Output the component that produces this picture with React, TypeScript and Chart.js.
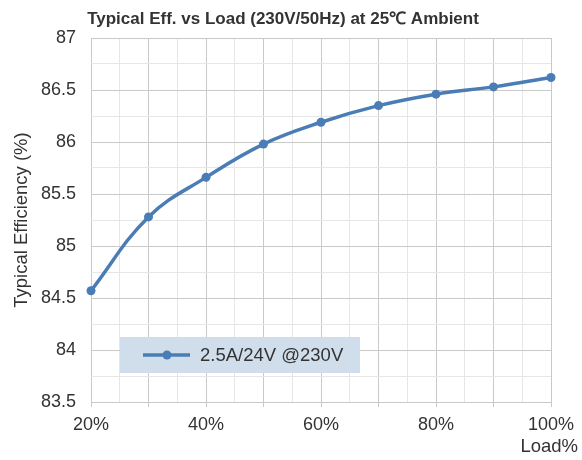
import React, { useEffect, useRef } from "react";
import { Chart, registerables } from "chart.js";

Chart.register(...registerables);

const loads = [20, 30, 40, 50, 60, 70, 80, 90, 100];
const efficiency = [84.57, 85.28, 85.66, 85.98, 86.19, 86.35, 86.46, 86.53, 86.62];
const seriesLabel = "2.5A/24V @230V";
const chartTitle = "Typical Eff. vs Load (230V/50Hz) at 25℃ Ambient";
const yTitle = "Typical Efficiency (%)";
const xTitle = "Load%";

const LINE = "#4a7cb6";
const MAJOR = "#c9c9c9";
const MINOR = "#e6e6e6";
const TEXT = "#333333";
const FONT = "Arial, 'Liberation Sans', sans-serif";

const isMultiple = (v: number, step: number) => Math.abs(v / step - Math.round(v / step)) < 1e-6;

export default function App() {
  const ref = useRef<HTMLCanvasElement | null>(null);
  useEffect(() => {
    if (!ref.current) return;
    const overlay = {
      id: "overlay",
      afterDraw(chart: any) {
        const c = chart.ctx;
        const a = chart.chartArea;
        c.save();
        // title
        c.fillStyle = TEXT;
        c.font = `bold 17px ${FONT}`;
        c.textAlign = "center";
        c.textBaseline = "middle";
        c.fillText(chartTitle, 283, 19);
        // x title
        c.font = `18.5px ${FONT}`;
        c.textAlign = "right";
        c.fillText(xTitle, a.right + 27, 447);
        // legend
        const lx = a.left + 29, ly = a.bottom - 65;
        c.fillStyle = "#d0deec";
        c.fillRect(lx, ly, 240, 36);
        c.strokeStyle = LINE;
        c.lineWidth = 3.5;
        c.beginPath();
        c.moveTo(lx + 23, ly + 18);
        c.lineTo(lx + 70, ly + 18);
        c.stroke();
        c.fillStyle = LINE;
        c.beginPath();
        c.arc(lx + 47, ly + 18, 4.5, 0, Math.PI * 2);
        c.fill();
        c.fillStyle = TEXT;
        c.textAlign = "left";
        c.font = `18.5px ${FONT}`;
        c.fillText(chart.data.datasets[0].label, lx + 80, ly + 19);
        c.restore();
      },
    };
    const chart = new Chart(ref.current, {
      type: "line",
      data: {
        datasets: [
          {
            label: seriesLabel,
            data: loads.map((x, i) => ({ x, y: efficiency[i] })),
            borderColor: LINE,
            backgroundColor: LINE,
            borderWidth: 3.5,
            pointRadius: 4.5,
            pointBackgroundColor: LINE,
            pointBorderWidth: 0,
            tension: 0.4,
            clip: false as any,
          },
        ],
      },
      options: {
        animation: false,
        responsive: false,
        layout: { padding: { top: 38, right: 31, left: 0, bottom: 0 } },
        plugins: { legend: { display: false }, title: { display: false }, tooltip: { enabled: false } },
        scales: {
          x: {
            type: "linear",
            min: 20,
            max: 100,
            afterFit: (s: any) => { s.height = 58; },
            border: { display: false },
            grid: {
              color: (ctx: any) => (isMultiple(ctx.tick.value, 10) ? MAJOR : MINOR),
              tickColor: (ctx: any) => (isMultiple(ctx.tick.value, 10) ? MAJOR : "rgba(0,0,0,0)"),
              tickLength: 5,
              lineWidth: 1,
            },
            ticks: {
              stepSize: 5,
              autoSkip: false,
              maxRotation: 0,
              padding: 7,
              color: TEXT,
              font: { family: FONT, size: 18 },
              callback: (v: any) => (isMultiple(Number(v), 20) ? `${v}%` : ""),
            },
          },
          y: {
            type: "linear",
            min: 83.5,
            max: 87,
            afterFit: (s: any) => { s.width = 91; },
            border: { display: false },
            grid: {
              color: (ctx: any) => (isMultiple(ctx.tick.value, 0.5) ? MAJOR : MINOR),
              drawTicks: false,
              lineWidth: 1,
            },
            ticks: {
              stepSize: 0.25,
              autoSkip: false,
              padding: 15,
              color: TEXT,
              font: { family: FONT, size: 18 },
              callback: (v: any) => (isMultiple(Number(v), 0.5) ? `${v}` : ""),
            },
            title: {
              display: true,
              text: yTitle,
              color: TEXT,
              font: { family: FONT, size: 18.5 },
              padding: { top: 11, bottom: 0 },
            },
          },
        },
      },
      plugins: [overlay],
    });
    return () => chart.destroy();
  }, []);
  return (
    <div style={{ position: "absolute", left: 0, top: 0, width: 582, height: 460, background: "#fff" }}>
      <canvas ref={ref} width={582} height={460} style={{ display: "block" }} />
    </div>
  );
}
